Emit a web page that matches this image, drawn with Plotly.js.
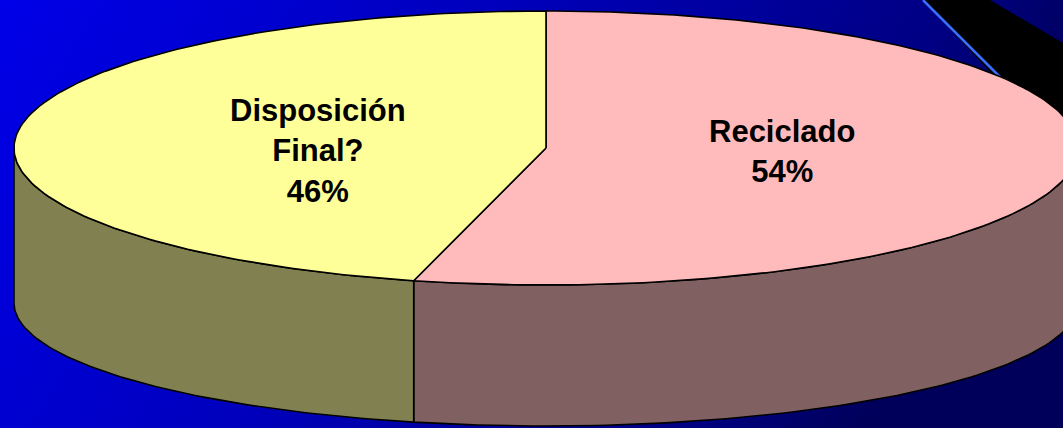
<!DOCTYPE html>
<html><head><meta charset="utf-8">
<script src="https://cdn.plot.ly/plotly-3.0.1.min.js"></script>
<style>html,body{margin:0;padding:0;overflow:hidden;background:#0000c0}#chart{width:1063px;height:428px}</style>
</head><body><div id="chart"></div>
<script>
// ---- data ----
const categories = ["Reciclado", "Disposición Final?"];
const labelLines = [["Reciclado"], ["Disposición", "Final?"]];
const values = [54, 46];
const topColors = ["#FFBBBB", "#FFFF99"];
const sideColors = ["#806060", "#808050"];

// ---- geometry of the 3-D pie (layout, not data) ----
const W = 1063, H = 428;
const cx = 546, cyTop = 148, a = 532, bTop = 137, cyBot = 303, bBot = 123;

function pt(deg, cy, b) { const r = deg * Math.PI / 180; return [cx + a * Math.sin(r), cy - b * Math.cos(r)]; }
function arc(d0, d1, cy, b) {
  const xs = [], ys = [];
  const n = Math.max(2, Math.ceil(Math.abs(d1 - d0)));
  for (let i = 0; i <= n; i++) { const d = d0 + (d1 - d0) * i / n; const p = pt(d, cy, b); xs.push(p[0]); ys.push(p[1]); }
  return [xs, ys];
}

const total = values.reduce((s, v) => s + v, 0);
let start = 0; const spans = [];
values.forEach(v => { const end = start + 360 * v / total; spans.push([start, end]); start = end; });

const traces = [];
const outline = { color: '#000000', width: 1.6 };
// visible side walls (front half: 90..270 deg)
spans.forEach((s, i) => {
  const lo = Math.max(s[0], 90), hi = Math.min(s[1], 270);
  if (hi <= lo) return;
  const [tx, ty] = arc(lo, hi, cyTop, bTop);
  const [bx, by] = arc(hi, lo, cyBot, bBot);
  traces.push({ type: 'scatter', mode: 'lines', x: [...tx, ...bx, tx[0]], y: [...ty, ...by, ty[0]],
    fill: 'toself', fillcolor: sideColors[i], line: outline, hoverinfo: 'skip', showlegend: false, name: categories[i] });
});
// top faces
spans.forEach((s, i) => {
  const [tx, ty] = arc(s[0], s[1], cyTop, bTop);
  traces.push({ type: 'scatter', mode: 'lines', x: [cx, ...tx, cx], y: [cyTop, ...ty, cyTop],
    fill: 'toself', fillcolor: topColors[i], line: outline, hoverinfo: 'skip', showlegend: false, name: categories[i] });
});

// labels
const annotations = spans.map((s, i) => {
  const mid = (s[0] + s[1]) / 2 * Math.PI / 180;
  const pct = Math.round(values[i] / total * 100) + '%';
  return {
    x: cx + 0.44 * a * Math.sin(mid) + 4, y: cyTop + 3, xref: 'x', yref: 'y',
    text: '<b>' + labelLines[i].join('<br>') + '<br>' + pct + '</b>',
    showarrow: false, xanchor: 'center', yanchor: 'middle', align: 'center',
    font: { family: 'Liberation Sans, Arial, sans-serif', size: 31, color: '#000000' }
  };
});

// background (template gradient)
const bgSvg = '<svg xmlns="http://www.w3.org/2000/svg" width="1063" height="428"><defs>' +
  '<linearGradient id="g" x1="0" y1="0" x2="1" y2="0.25">' +
  '<stop offset="0" stop-color="#0000e8"/><stop offset="0.45" stop-color="#0000bc"/>' +
  '<stop offset="0.85" stop-color="#000082"/><stop offset="1" stop-color="#00005a"/>' +
  '</linearGradient></defs><rect width="1063" height="428" fill="url(#g)"/></svg>';

const layout = {
  width: W, height: H, margin: { l: 0, r: 0, t: 0, b: 0 },
  paper_bgcolor: '#0000c0', plot_bgcolor: 'rgba(0,0,0,0)',
  xaxis: { range: [0, W], visible: false, fixedrange: true },
  yaxis: { range: [H, 0], visible: false, fixedrange: true },
  showlegend: false,
  images: [{ source: 'data:image/svg+xml;base64,' + btoa(bgSvg), xref: 'paper', yref: 'paper',
    x: 0, y: 1, sizex: 1, sizey: 1, sizing: 'stretch', xanchor: 'left', yanchor: 'top', layer: 'below' }],
  shapes: [
    { type: 'path', xref: 'x', yref: 'y', layer: 'below', path: 'M923,0 L990,0 L1063,43 L1063,150 Z',
      fillcolor: '#000000', line: { width: 0 } },
    { type: 'line', xref: 'x', yref: 'y', layer: 'below', x0: 923, y0: 0, x1: 1000, y1: 77,
      line: { color: '#3a6eff', width: 2.5 } }
  ],
  annotations: annotations
};

Plotly.newPlot('chart', traces, layout, { displayModeBar: false, staticPlot: true });
</script></body></html>
